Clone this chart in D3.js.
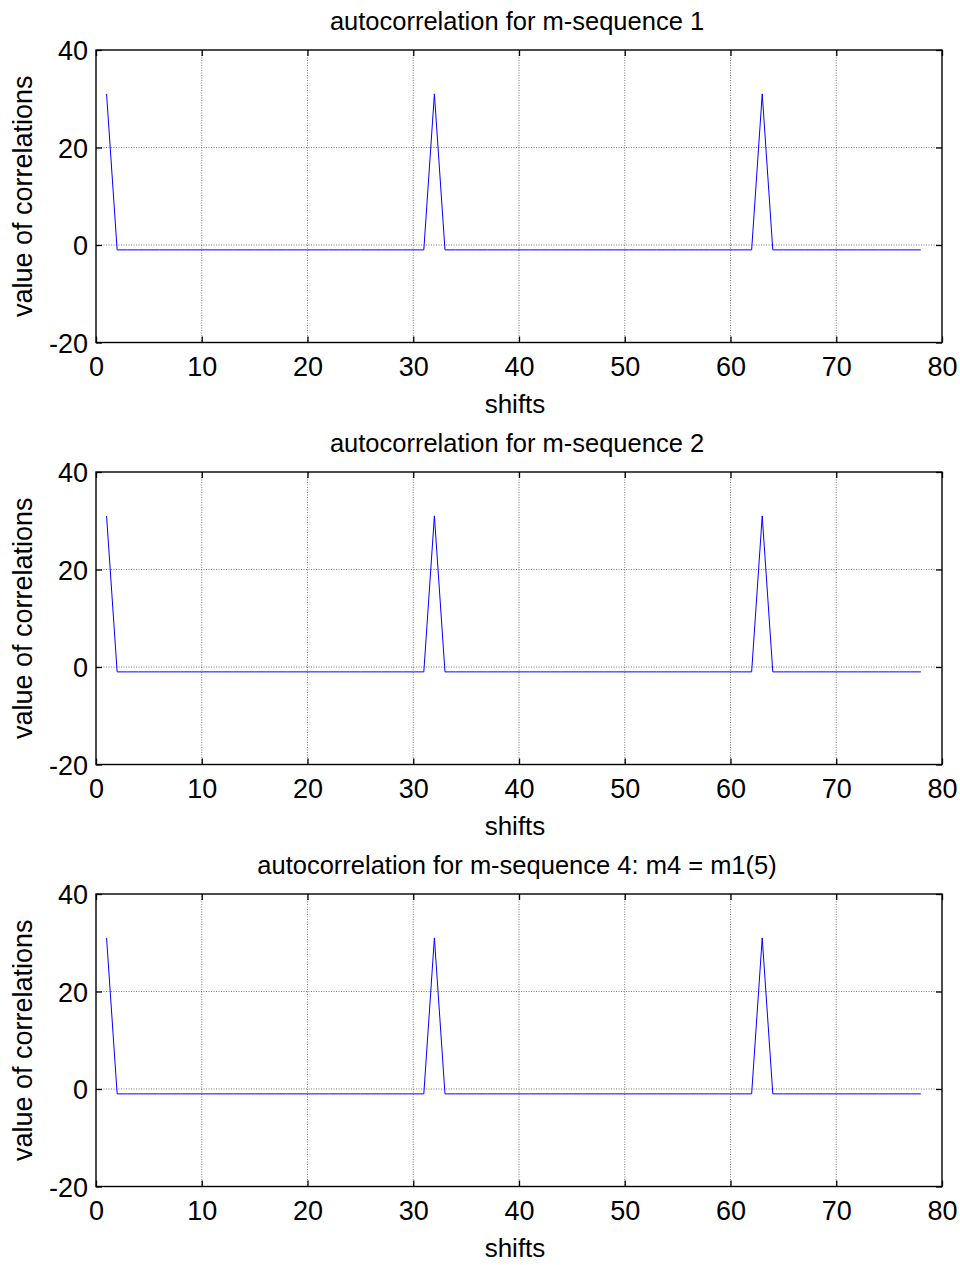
<!DOCTYPE html>
<html>
<head>
<meta charset="utf-8">
<script src="https://cdn.jsdelivr.net/npm/d3@7"></script>
<style>
  html, body { margin: 0; padding: 0; background: #fff; }
  svg { display: block; }
  text { font-family: "Liberation Sans", Arial, sans-serif; fill: #000; }
</style>
</head>
<body>
<script>
// ---- data ----
const shifts = [1,2,3,4,5,6,7,8,9,10,11,12,13,14,15,16,17,18,19,20,21,22,23,24,25,26,27,28,29,30,31,32,33,34,35,36,37,38,39,40,41,42,43,44,45,46,47,48,49,50,51,52,53,54,55,56,57,58,59,60,61,62,63,64,65,66,67,68,69,70,71,72,73,74,75,76,77,78];
const corr1 = [31,-1,-1,-1,-1,-1,-1,-1,-1,-1,-1,-1,-1,-1,-1,-1,-1,-1,-1,-1,-1,-1,-1,-1,-1,-1,-1,-1,-1,-1,-1,31,-1,-1,-1,-1,-1,-1,-1,-1,-1,-1,-1,-1,-1,-1,-1,-1,-1,-1,-1,-1,-1,-1,-1,-1,-1,-1,-1,-1,-1,-1,31,-1,-1,-1,-1,-1,-1,-1,-1,-1,-1,-1,-1,-1,-1,-1];
const corr2 = [31,-1,-1,-1,-1,-1,-1,-1,-1,-1,-1,-1,-1,-1,-1,-1,-1,-1,-1,-1,-1,-1,-1,-1,-1,-1,-1,-1,-1,-1,-1,31,-1,-1,-1,-1,-1,-1,-1,-1,-1,-1,-1,-1,-1,-1,-1,-1,-1,-1,-1,-1,-1,-1,-1,-1,-1,-1,-1,-1,-1,-1,31,-1,-1,-1,-1,-1,-1,-1,-1,-1,-1,-1,-1,-1,-1,-1];
const corr4 = [31,-1,-1,-1,-1,-1,-1,-1,-1,-1,-1,-1,-1,-1,-1,-1,-1,-1,-1,-1,-1,-1,-1,-1,-1,-1,-1,-1,-1,-1,-1,31,-1,-1,-1,-1,-1,-1,-1,-1,-1,-1,-1,-1,-1,-1,-1,-1,-1,-1,-1,-1,-1,-1,-1,-1,-1,-1,-1,-1,-1,-1,31,-1,-1,-1,-1,-1,-1,-1,-1,-1,-1,-1,-1,-1,-1,-1];
const titles = ["autocorrelation for m-sequence 1", "autocorrelation for m-sequence 2", "autocorrelation for m-sequence 4: m4 = m1(5)"];
const xTicks = [0,10,20,30,40,50,60,70,80];
const yTicks = [-20,0,20,40];
const yTickLabels = ["-20","0","20","40"];
const xLabel = "shifts";
const yLabel = "value of correlations";

// ---- layout ----
const W = 960, H = 1265;
const left = 96, right = 942;
const tops = [50, 472, 894];
const plotH = 292.5;
const series = [corr1, corr2, corr4];
const FONT = "Liberation Sans, Arial, sans-serif";

const svg = d3.select("body").append("svg").attr("width", W).attr("height", H);

const x = d3.scaleLinear().domain([0, 80]).range([left, right]);

series.forEach((vals, i) => {
  const top = tops[i], bottom = top + plotH;
  const y = d3.scaleLinear().domain([-20, 40]).range([bottom, top]);
  const g = svg.append("g");

  // grid (dotted)
  const grid = g.append("g").attr("stroke", "#444").attr("stroke-width", 0.7).attr("stroke-dasharray", "1,1.5");
  xTicks.slice(1, -1).forEach(t => {
    grid.append("line").attr("x1", x(t)).attr("x2", x(t)).attr("y1", top).attr("y2", bottom);
  });
  yTicks.slice(1, -1).forEach(t => {
    grid.append("line").attr("x1", left).attr("x2", right).attr("y1", y(t)).attr("y2", y(t));
  });

  // data line
  const line = d3.line().x((d, k) => x(shifts[k])).y(d => y(d));
  g.append("path").datum(vals).attr("d", line)
    .attr("fill", "none").attr("stroke", "#0000ff").attr("stroke-width", 1);

  // axes (inward ticks, box)
  const tl = 6;
  g.append("g").attr("transform", `translate(0,${bottom})`)
    .call(d3.axisBottom(x).tickValues(xTicks).tickSizeInner(-tl).tickSizeOuter(0).tickPadding(14).tickFormat(d3.format("d")))
    .call(a => a.select(".domain").remove())
    .call(a => a.selectAll("text").attr("font-size", 27).attr("font-family", FONT).attr("fill", "#000"))
    .call(a => a.selectAll("line").attr("stroke", "#000").attr("stroke-width", 1.3));
  g.append("g").attr("transform", `translate(0,${top})`)
    .call(d3.axisTop(x).tickValues(xTicks).tickSizeInner(-tl).tickSizeOuter(0).tickFormat(""))
    .call(a => a.select(".domain").remove())
    .call(a => a.selectAll("line").attr("stroke", "#000").attr("stroke-width", 1.3));
  g.append("g").attr("transform", `translate(${left},0)`)
    .call(d3.axisLeft(y).tickValues(yTicks).tickSizeInner(-tl).tickSizeOuter(0).tickPadding(8).tickFormat((d, k) => yTickLabels[k]))
    .call(a => a.select(".domain").remove())
    .call(a => a.selectAll("text").attr("font-size", 27).attr("font-family", FONT).attr("fill", "#000").attr("dy", "0.36em"))
    .call(a => a.selectAll("line").attr("stroke", "#000").attr("stroke-width", 1.3));
  g.append("g").attr("transform", `translate(${right},0)`)
    .call(d3.axisRight(y).tickValues(yTicks).tickSizeInner(-tl).tickSizeOuter(0).tickFormat(""))
    .call(a => a.select(".domain").remove())
    .call(a => a.selectAll("line").attr("stroke", "#000").attr("stroke-width", 1.3));

  // box
  g.append("rect").attr("x", left).attr("y", top).attr("width", right - left).attr("height", plotH)
    .attr("fill", "none").attr("stroke", "#000").attr("stroke-width", 1.4);

  // labels
  g.append("text").attr("x", (left + right) / 2 - 2).attr("y", top - 20)
    .attr("text-anchor", "middle").attr("font-size", 25.5).text(titles[i]);
  g.append("text").attr("x", (left + right) / 2 - 4).attr("y", bottom + 70)
    .attr("text-anchor", "middle").attr("font-size", 26).text(xLabel);
  g.append("text").attr("transform", `translate(32,${(top + bottom) / 2}) rotate(-90)`)
    .attr("text-anchor", "middle").attr("font-size", 27).text(yLabel);
});
</script>
</body>
</html>
